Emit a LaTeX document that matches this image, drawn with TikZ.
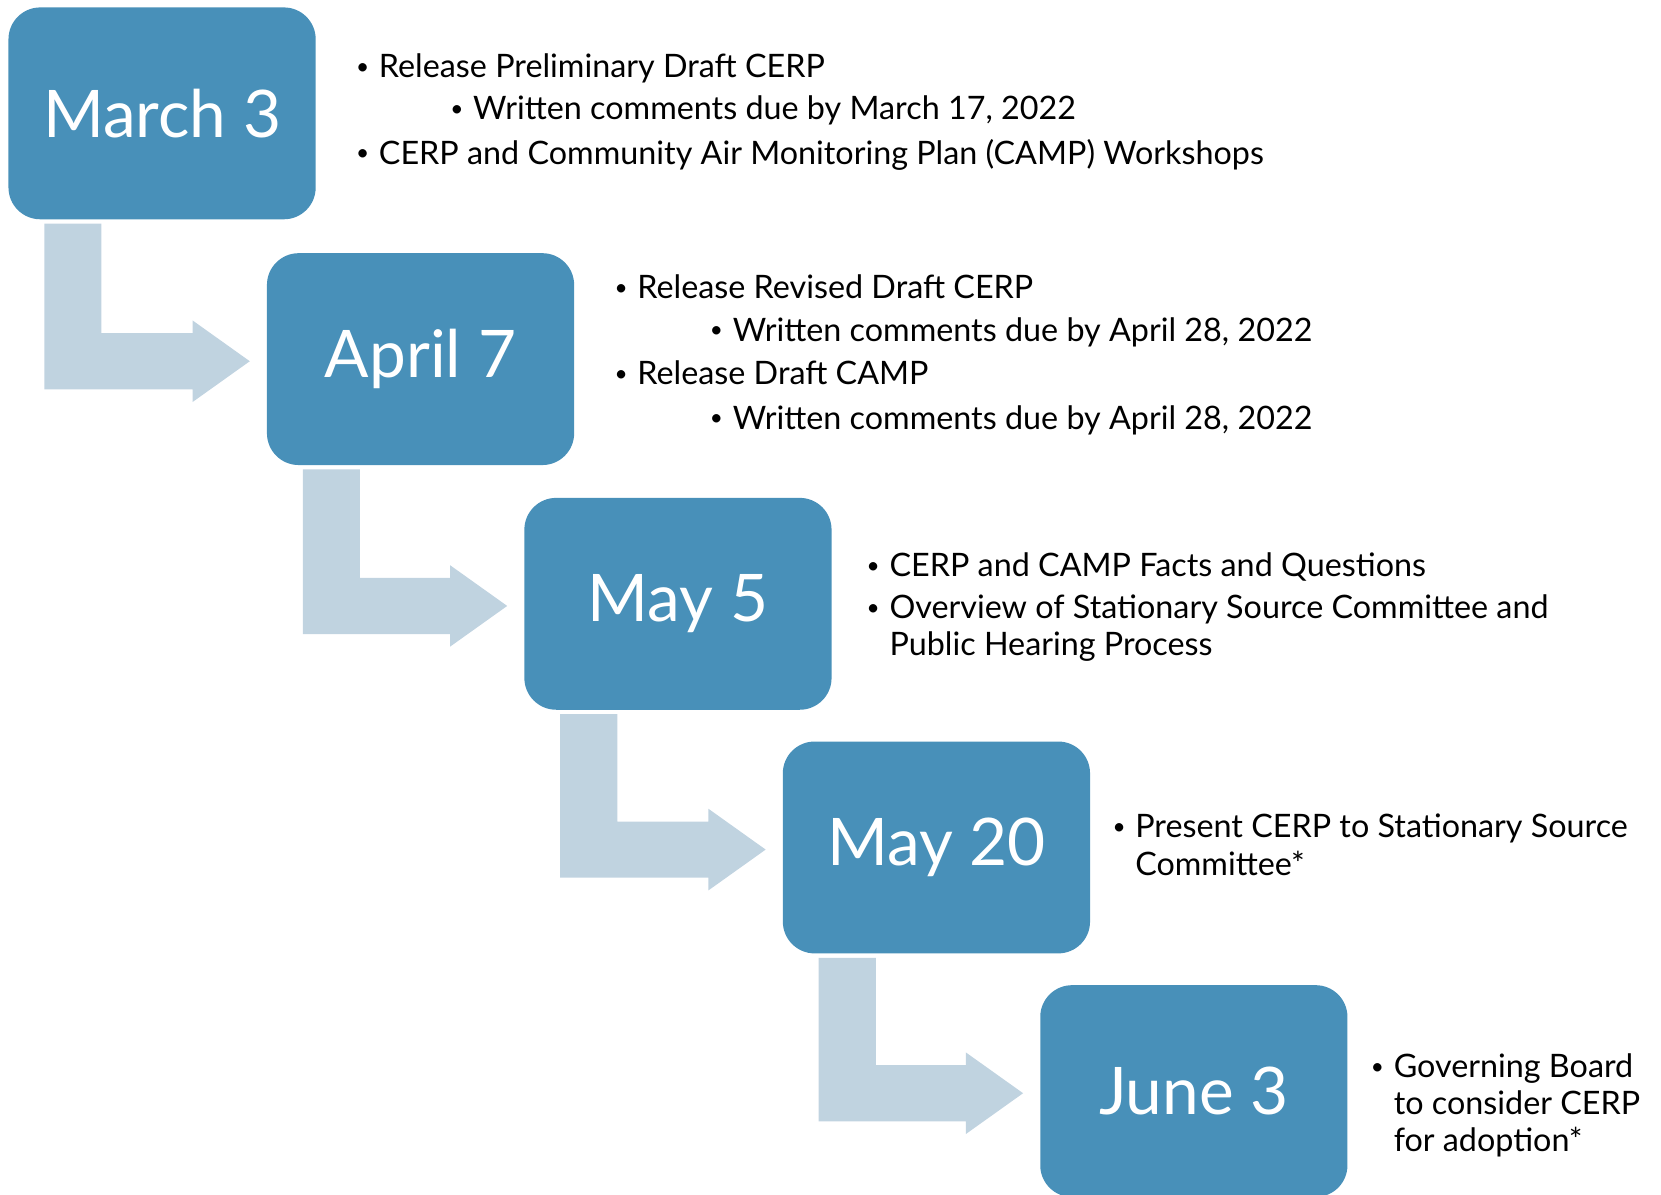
\documentclass[tikz,border=0pt]{standalone}
\usepackage{fontspec}
\usepackage{graphicx}
\setmainfont{Lato}
\usetikzlibrary{calc}
\definecolor{boxblue}{RGB}{72,144,185}
\definecolor{arrowblue}{RGB}{192,211,224}
\tikzstyle{datebox}=[rounded corners=30pt, fill=boxblue, text=white, minimum width=290pt, minimum height=200pt, font=\fontsize{62}{72}\selectfont]
\tikzstyle{note}=[anchor=base west, inner sep=0pt, font=\fontsize{30.5}{35}\selectfont]
\newcommand{\bul}[1]{\raisebox{0.1em}{\scalebox{0.7}{\textbullet}}\hspace{0.3em}\begin{tabular}[t]{@{}l@{}}#1\end{tabular}}
\newcommand{\stepArrow}[2]{% bent arrow: out of the bottom of #1, into the left side of #2
  \fill[arrowblue] ($(#1.south west)+(34,4)$) -- ($(#1.south west)+(88,4)$)
    -- ($(#1.south west |- #2.west)+(88,-24.5)$) -- ($(#2.west)+(-70,-24.5)$)
    -- ($(#2.west)+(-70,-36.5)$) -- ($(#2.west)+(-16,2)$)
    -- ($(#2.west)+(-70,40.5)$) -- ($(#2.west)+(-70,28.5)$)
    -- ($(#1.south west |- #2.west)+(34,28.5)$) -- cycle;
}

\begin{document}
\begin{tikzpicture}[x=1pt, y=-1pt]
  \useasboundingbox (0,0) rectangle (1568,1128);
  % dates
  \node[datebox] (mar) at (153,107) {March 3};
  \node[datebox] (apr) at (397,339) {April 7};
  \node[datebox] (may) at (640,570) {May 5};
  \node[datebox] (mtw) at (884,800) {May 20};
  \node[datebox] (jun) at (1127,1030) {June 3};
  \foreach \a/\b in {mar/apr, apr/may, may/mtw, mtw/jun}{
    \stepArrow{\a}{\b}
  }
  % notes
  \node[note] (marA) at (336,73) {\bul{Release Preliminary Draft CERP}};
  \node[note] (marB) at (425,113) {\bul{Written comments due by March 17, 2022}};
  \node[note] (marC) at (336,155) {\bul{CERP and Community Air Monitoring Plan (CAMP) Workshops}};
  \node[note] (aprA) at (580,282) {\bul{Release Revised Draft CERP}};
  \node[note] (aprB) at (670,322) {\bul{Written comments due by April 28, 2022}};
  \node[note] (aprC) at (580,363) {\bul{Release Draft CAMP}};
  \node[note] (aprD) at (670,405) {\bul{Written comments due by April 28, 2022}};
  \node[note] (mayA) at (818,544) {\bul{CERP and CAMP Facts and Questions}};
  \node[note] (mayB) at (818,584) {\bul{Overview of Stationary Source Committee and\\Public Hearing Process}};
  \node[note] (mtwA) at (1050,791) {\bul{Present CERP to Stationary Source\\Committee*}};
  \node[note] (junA) at (1294,1017) {\bul{Governing Board\\to consider CERP\\for adoption*}};
\end{tikzpicture}
\end{document}
